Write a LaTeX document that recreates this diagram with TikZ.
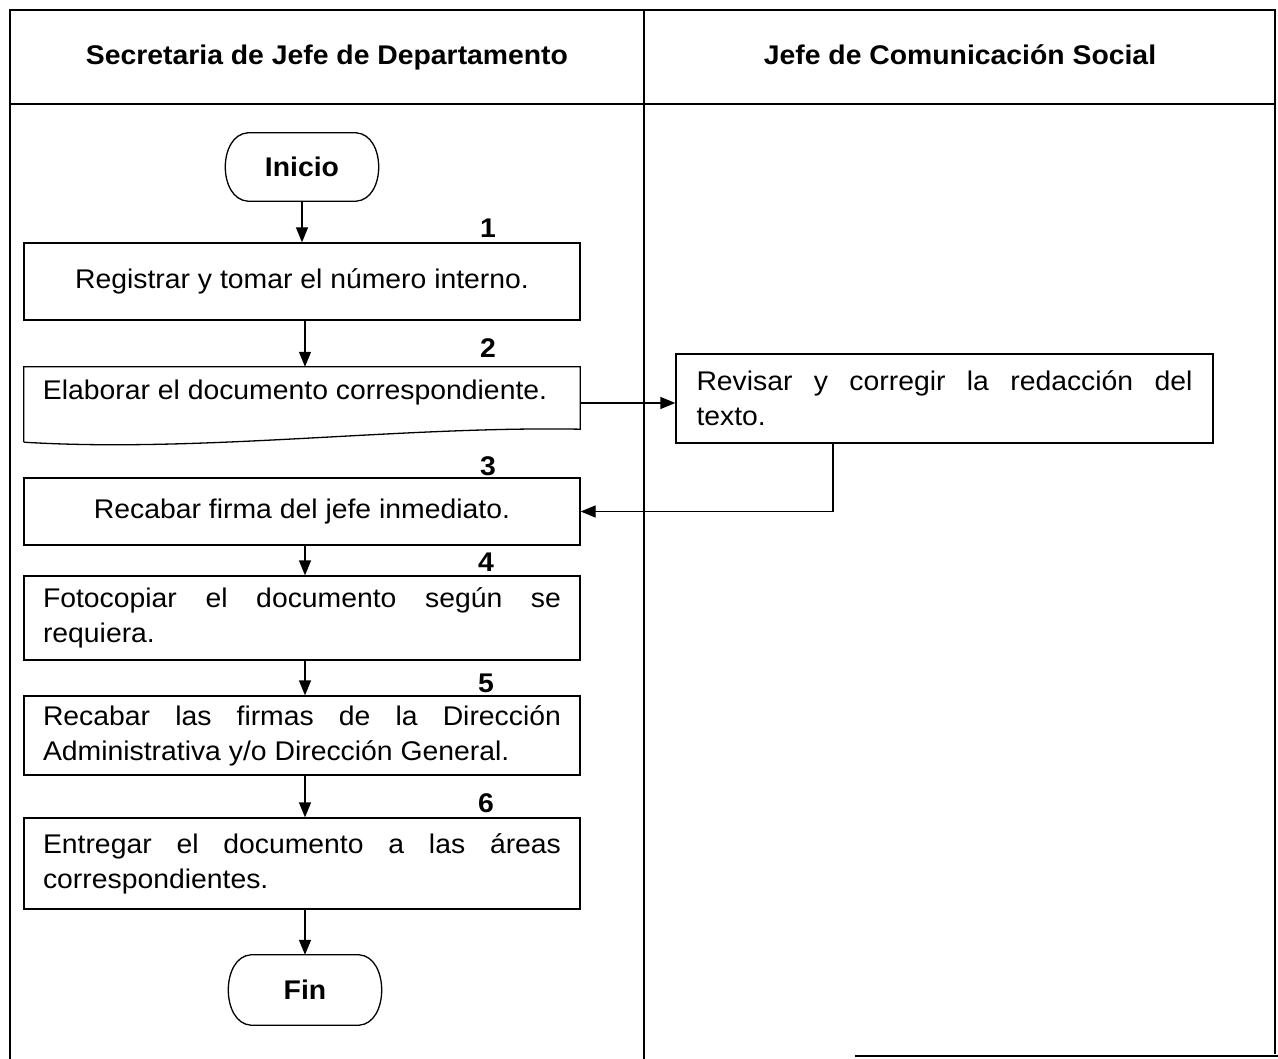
\documentclass[tikz,border=0pt]{standalone}
\usepackage{fontspec}
\setmainfont[FakeStretch=1.05]{Liberation Sans}
\usetikzlibrary{arrows.meta,calc}
\begin{document}
\begin{tikzpicture}[x=1pt,y=-1pt,
  every node/.style={font=\fontsize{27}{35}\selectfont},
  frame/.style={line width=2pt},
  procbox/.style={draw, line width=1.3pt, minimum width=556pt, inner sep=0pt},
  parbox/.style={procbox, text width=518pt, inner xsep=19pt, align=justify},
  hdr/.style={font=\fontsize{27}{35}\selectfont\bfseries, text height=20pt, text depth=6pt},
  num/.style={font=\fontsize{27}{35}\selectfont\bfseries},
  flow/.style={line width=1.3pt, -{Triangle[length=15pt,width=12pt]}},
  term/.style={minimum width=156pt, minimum height=68pt, inner sep=0pt}
]
\useasboundingbox (0,0) rectangle (1278,1059);
% frame
\draw[frame] (10,1059) -- (10,10) -- (1275,10) -- (1275,1054);
\draw[frame] (855,1056) -- (1278,1056);
\draw[frame] (10,104) -- (1275,104);
\draw[frame] (644,10) -- (644,1059);
% headers
\node[hdr] (h1) at (327,58) {Secretaria de Jefe de Departamento};
\node[hdr] (h2) at (960,58) {Jefe de Comunicación Social};
% start
\node[term] (ini) at (302,167) {\bfseries Inicio};
\draw[line width=1.3pt] ($(ini.north west)+(24,0)$) -- ($(ini.north east)+(-24,0)$)
  .. controls ($(ini.north east)+(6,2)$) and ($(ini.south east)+(6,-2)$) .. ($(ini.south east)+(-24,0)$)
  -- ($(ini.south west)+(24,0)$)
  .. controls ($(ini.south west)+(-6,-2)$) and ($(ini.north west)+(-6,2)$) .. cycle;
% box 1
\node[procbox, minimum height=77pt] (b1) at (302,281.5) {Registrar y tomar el número interno.};
\node[num] (n1) at (488,228) {1};
% box 2 (document)
\node[minimum width=556pt, minimum height=75pt, inner sep=0pt] (b2) at (302,404.5) {};
\node (t2) at (295,393) {Elaborar el documento correspondiente.};
\draw[line width=1.3pt] (b2.south west) -- (b2.north west) -- (b2.north east) -- ($(b2.south east)+(0,-13)$)
  .. controls (400,426) and (200,453) .. (b2.south west);
\node[num] (n2) at (488,348) {2};
% right box
\node[parbox, text width=496pt, inner xsep=20.5pt, minimum width=537pt, minimum height=89pt] (r) at (944.5,398.5)
  {Revisar y corregir la redacción del\linebreak texto.};
% box 3
\node[procbox, minimum height=67pt] (b3) at (302,511.5) {Recabar firma del jefe inmediato.};
\node[num] (n3) at (488,466) {3};
% box 4
\node[parbox, minimum height=84pt] (b4) at (302,618) {Fotocopiar el documento según se\linebreak requiera.};
\node[num] (n4) at (486,562) {4};
% box 5
\node[parbox, minimum height=79pt] (b5) at (302,735.5) {Recabar las firmas de la Dirección\linebreak Administrativa y/o Dirección General.};
\node[num] (n5) at (486,683) {5};
% box 6
\node[parbox, minimum height=91pt] (b6) at (302,863.5) {Entregar el documento a las áreas\linebreak correspondientes.};
\node[num] (n6) at (486,803) {6};
% end
\node[term, minimum height=70pt] (fin) at (305,990) {\bfseries Fin};
\draw[line width=1.3pt] ($(fin.north west)+(24,0)$) -- ($(fin.north east)+(-24,0)$)
  .. controls ($(fin.north east)+(6,2)$) and ($(fin.south east)+(6,-2)$) .. ($(fin.south east)+(-24,0)$)
  -- ($(fin.south west)+(24,0)$)
  .. controls ($(fin.south west)+(-6,-2)$) and ($(fin.north west)+(-6,2)$) .. cycle;
% connectors
\draw[flow] (ini.south) -- (ini.south |- b1.north);
\draw[flow] ([xshift=3pt]b1.south) -- ([xshift=3pt]b2.north);
\draw[flow] ($(b2.east)+(0,-1.5)$) -- ($(b2.east -| r.west)+(0,-1.5)$);
\coordinate (rk) at ($(r.south)+(-111.5,0)$);
\draw[flow] (rk) |- (b3.east);
\draw[flow] ([xshift=3pt]b3.south) -- ([xshift=3pt]b4.north);
\draw[flow] ([xshift=3pt]b4.south) -- ([xshift=3pt]b5.north);
\draw[flow] ([xshift=3pt]b5.south) -- ([xshift=3pt]b6.north);
\draw[flow] ([xshift=3pt]b6.south) -- (fin.north);
\end{tikzpicture}
\end{document}
